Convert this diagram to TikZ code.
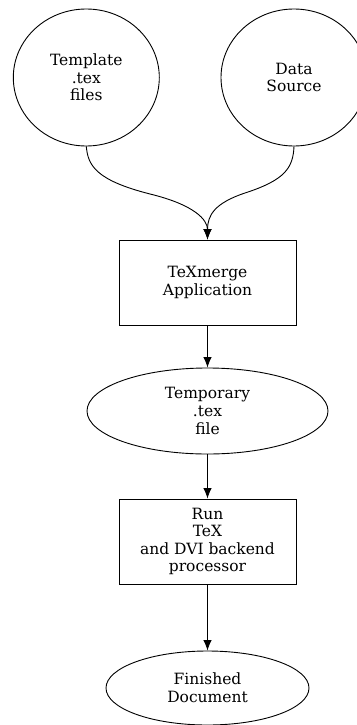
\documentclass[tikz,border=0pt]{standalone}
\usepackage{fontspec}
\setmainfont{DejaVu Serif}
\usetikzlibrary{shapes.geometric,arrows.meta}
\tikzset{
  base/.style={draw=black, line width=0.9pt, inner sep=0pt, align=center,
    font=\fontsize{15.5}{17.6}\selectfont},
  oval/.style={base, ellipse},
  procbox/.style={base, rectangle, minimum width=177pt, minimum height=85pt},
  arr/.style={line width=0.9pt, -{Latex[length=10.5pt,width=8.5pt]}}
}
\begin{document}
\begin{tikzpicture}[x=1pt,y=-1pt]
\useasboundingbox (0,0) rectangle (356,725);
\node[oval, minimum width=146pt, minimum height=137pt] (t1) at (86.3,77.5) {Template\\.tex\\files};
\node[oval, minimum width=146pt, minimum height=137pt] (ds) at (294,77.5) {Data\\Source};
\node[procbox] (app) at (207.5,282.5) {TeXmerge\\Application};
\node[oval, minimum width=241pt, minimum height=86pt] (tmp) at (207.5,411) {Temporary\\.tex\\file};
\node[procbox] (run) at (207.5,541.5) {Run\\TeX\\and DVI backend\\processor};
\node[oval, minimum width=203pt, minimum height=74pt] (fin) at (207.5,688) {Finished\\Document};
\draw[arr] (t1.south) .. controls (88,165) and (95,180) .. (150,194) .. controls (195,205) and (207.5,220) .. (app.north);
\draw[arr] (ds.south) .. controls (293,168) and (285,180) .. (245,193) .. controls (215,203) and (207.5,215) .. (app.north);
\draw[arr] (app) -- (tmp);
\draw[arr] (tmp) -- (run);
\draw[arr] (run) -- (fin);
\end{tikzpicture}
\end{document}
